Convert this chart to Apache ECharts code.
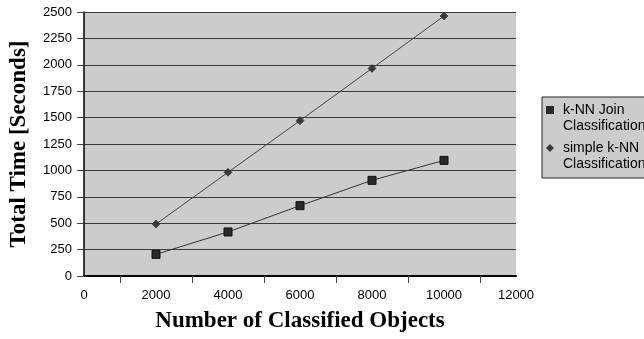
<!DOCTYPE html>
<html>
<head>
<meta charset="utf-8">
<script src="https://cdn.jsdelivr.net/npm/echarts@6/dist/echarts.min.js"></script>
<style>
  html, body { margin: 0; padding: 0; background: #fff; }
  #chart { width: 644px; height: 339px; }
</style>
</head>
<body>
<div id="chart"></div>
<script>
// Number of classified objects (x values)
const objects = [2000, 4000, 6000, 8000, 10000];
// Total runtime in seconds
const joinTimes = [205, 417, 666, 906, 1095];
const simpleTimes = [492, 982, 1471, 1966, 2462];
const seriesNames = ['k-NN Join\nClassification', 'simple k-NN\nClassification'];

const pairs = (xs, ys) => xs.map((x, i) => [x, ys[i]]);
const plainNumber = v => String(v);

// Legend icons: shape sits in the upper part of the icon box so it lines up with the first text line
const squareIcon = 'path://M0,0h8v8h-8z M0,24h0.01v0.01h-0.01z';
const diamondIcon = 'path://M4,0L8,4L4,8L0,4Z M4,24h0.01v0.01h-0.01z';

const chart = echarts.init(document.getElementById('chart'));
chart.setOption({
  animation: false,
  backgroundColor: '#ffffff',
  grid: {
    left: 81, right: 128, top: 12, bottom: 63,
    show: true, backgroundColor: '#cccccc', borderWidth: 0
  },
  legend: {
    orient: 'vertical',
    left: 542, top: 97,
    padding: [5, 12, 6, 4],
    itemGap: 6,
    itemWidth: 8, itemHeight: 24,
    backgroundColor: '#cccccc',
    borderColor: '#222', borderWidth: 1,
    textStyle: { fontFamily: 'Liberation Sans', fontSize: 14, color: '#000', lineHeight: 16, padding: [0, 0, 0, 4] },
    data: [
      { name: seriesNames[0], icon: squareIcon, itemStyle: { color: '#2a2a2a', borderWidth: 0 } },
      { name: seriesNames[1], icon: diamondIcon, itemStyle: { color: '#3a3a3a', borderWidth: 0 } }
    ]
  },
  xAxis: {
    type: 'value', min: 0, max: 12000, interval: 2000,
    name: 'Number of Classified Objects', nameLocation: 'middle', nameGap: 34,
    nameTextStyle: { fontFamily: 'Liberation Serif', fontWeight: 'bold', fontSize: 23, color: '#000' },
    axisLine: { show: true, lineStyle: { color: '#000', width: 2 } },
    axisTick: { show: false },
    minorTick: { show: true, splitNumber: 2, length: 7, lineStyle: { color: '#444', width: 1 } },
    axisLabel: { fontFamily: 'Liberation Sans', fontSize: 13, color: '#000', margin: 13, formatter: plainNumber },
    splitLine: { show: false }
  },
  yAxis: {
    type: 'value', min: 0, max: 2500, interval: 250,
    name: 'Total Time [Seconds]', nameLocation: 'middle', nameGap: 53, nameRotate: 90,
    nameTextStyle: { fontFamily: 'Liberation Serif', fontWeight: 'bold', fontSize: 23, color: '#000' },
    axisLine: { show: true, lineStyle: { color: '#000', width: 1.5 } },
    axisTick: { show: true, length: 7, lineStyle: { color: '#444' } },
    axisLabel: { fontFamily: 'Liberation Sans', fontSize: 13, color: '#000', margin: 12, formatter: plainNumber },
    splitLine: { show: true, lineStyle: { color: '#3a3a3a', width: 1 } }
  },
  series: [
    {
      name: seriesNames[0], type: 'line', data: pairs(objects, joinTimes),
      symbol: 'rect', symbolSize: 8,
      itemStyle: { color: '#2a2a2a', borderColor: '#111', borderWidth: 1 },
      lineStyle: { color: '#333', width: 1 }
    },
    {
      name: seriesNames[1], type: 'line', data: pairs(objects, simpleTimes),
      symbol: 'diamond', symbolSize: 8,
      itemStyle: { color: '#3a3a3a', borderColor: '#222', borderWidth: 0.5 },
      lineStyle: { color: '#444', width: 1 }
    }
  ]
});
</script>
</body>
</html>
